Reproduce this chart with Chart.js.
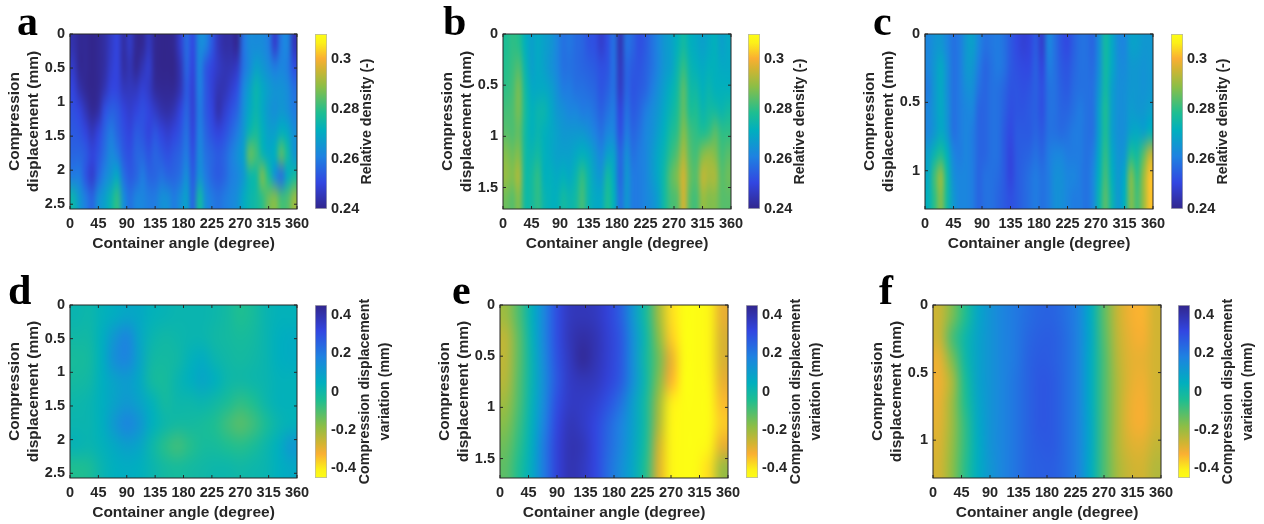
<!DOCTYPE html>
<html>
<head>
<meta charset="utf-8">
<title>Relative density and compression displacement maps</title>
<script src="https://cdn.jsdelivr.net/npm/chart.js@4/dist/chart.umd.min.js"></script>
<style>
html, body { margin: 0; padding: 0; background: #fff; }
#page { position: relative; width: 1264px; height: 524px; overflow: hidden; filter: blur(0.4px); }
#page canvas { position: absolute; }
.letter { position: absolute; font: bold 42px/42px "Liberation Serif", serif; color: #000; }
</style>
</head>
<body>
<div id="page"></div>
<script>
/* tick labels and column positions */
const angleTicks = [0, 45, 90, 135, 180, 225, 270, 315, 360];
const fineAngles = [5, 15, 25, 35, 45, 55, 65, 75, 85, 95, 105, 115, 125, 135, 145, 155, 165, 175, 185, 195, 205, 215, 225, 235, 245, 255, 265, 275, 285, 295, 305, 315, 325, 335, 345, 355];
const coarseAngles = [10, 30, 50, 70, 90, 110, 130, 150, 170, 190, 210, 230, 250, 270, 290, 310, 330, 350];
const densityTicks = [0.24, 0.26, 0.28, 0.3];
const variationTicks = [-0.4, -0.2, 0, 0.2, 0.4];
const depthTicksLong = [0, 0.5, 1, 1.5, 2, 2.5];
const depthTicksMid = [0, 0.5, 1, 1.5];
const depthTicksShort = [0, 0.5, 1];

/* row edges in mm */
const edgesA = [0, 0.32, 0.64, 0.96, 1.28, 1.6, 1.92, 2.24, 2.57];
const edgesB = [0, 0.21, 0.43, 0.64, 0.86, 1.07, 1.28, 1.5, 1.71];
const edgesC = [0, 0.16, 0.32, 0.48, 0.64, 0.8, 0.96, 1.12, 1.28];
const edgesD = [0, 0.32, 0.64, 0.96, 1.28, 1.6, 1.92, 2.24, 2.57];
const edgesE = [0, 0.21, 0.42, 0.63, 0.85, 1.06, 1.27, 1.48, 1.69];
const edgesF = [0, 0.16, 0.32, 0.48, 0.64, 0.8, 0.96, 1.12, 1.28];

/* relative density, one row per depth band */
const densityA = [
  [.244,.241,.241,.240,.241,.243,.247,.250,.243,.247,.241,.241,.246,.241,.240,.240,.241,.248,.257,.251,.263,.262,.254,.246,.243,.243,.241,.258,.263,.263,.263,.260,.248,.260,.262,.246],
  [.247,.241,.241,.240,.241,.243,.248,.250,.243,.245,.241,.245,.248,.241,.240,.240,.240,.245,.256,.250,.262,.254,.250,.247,.245,.245,.247,.258,.263,.268,.266,.263,.260,.262,.260,.252],
  [.250,.244,.241,.240,.241,.245,.250,.250,.246,.246,.246,.249,.247,.242,.241,.241,.241,.245,.254,.249,.261,.254,.249,.245,.245,.248,.252,.262,.268,.274,.270,.267,.265,.265,.263,.258],
  [.252,.250,.245,.241,.243,.252,.255,.254,.250,.248,.250,.252,.250,.247,.244,.243,.245,.250,.256,.249,.260,.254,.250,.244,.248,.252,.256,.264,.270,.274,.270,.266,.264,.266,.264,.260],
  [.254,.253,.250,.246,.250,.256,.260,.256,.252,.250,.254,.253,.250,.253,.250,.248,.250,.253,.258,.250,.261,.256,.252,.250,.252,.256,.260,.266,.274,.277,.272,.268,.268,.272,.270,.264],
  [.256,.256,.254,.250,.253,.258,.263,.260,.254,.252,.256,.256,.253,.256,.254,.252,.254,.256,.260,.252,.263,.258,.256,.254,.256,.260,.264,.268,.285,.282,.274,.270,.272,.284,.276,.266],
  [.260,.260,.253,.248,.256,.262,.266,.270,.258,.254,.256,.260,.256,.256,.258,.256,.256,.258,.264,.254,.265,.260,.256,.254,.256,.260,.262,.266,.274,.276,.287,.278,.264,.258,.270,.276],
  [.274,.266,.260,.256,.264,.268,.274,.280,.264,.258,.262,.262,.260,.260,.264,.264,.260,.264,.268,.256,.276,.264,.260,.258,.260,.262,.264,.270,.274,.276,.280,.286,.288,.282,.283,.290]
];
const densityB = [
  [.278,.280,.279,.272,.268,.270,.268,.266,.262,.258,.259,.257,.256,.253,.252,.248,.252,.258,.245,.258,.256,.252,.254,.258,.262,.266,.268,.272,.276,.272,.270,.268,.270,.272,.268,.270],
  [.279,.281,.283,.274,.268,.270,.268,.265,.262,.258,.258,.257,.256,.255,.254,.252,.253,.258,.246,.256,.254,.253,.255,.258,.262,.266,.268,.274,.280,.274,.272,.270,.272,.272,.270,.270],
  [.280,.282,.287,.276,.270,.270,.270,.268,.264,.260,.260,.258,.258,.257,.256,.253,.255,.258,.247,.256,.253,.254,.256,.260,.264,.268,.272,.276,.284,.276,.275,.272,.274,.272,.272,.272],
  [.282,.283,.287,.277,.272,.274,.274,.270,.266,.264,.262,.262,.260,.260,.258,.255,.258,.260,.250,.258,.254,.256,.260,.263,.266,.270,.274,.278,.285,.278,.278,.274,.276,.276,.274,.276],
  [.284,.283,.285,.276,.272,.274,.272,.270,.268,.266,.266,.266,.266,.264,.261,.258,.262,.262,.252,.260,.256,.258,.262,.264,.268,.272,.277,.280,.288,.282,.280,.278,.280,.284,.280,.280],
  [.288,.286,.288,.276,.274,.276,.272,.270,.268,.268,.268,.270,.272,.270,.266,.262,.268,.268,.256,.264,.258,.260,.262,.266,.270,.274,.280,.284,.292,.284,.282,.288,.290,.288,.282,.284],
  [.290,.288,.292,.276,.276,.280,.272,.272,.270,.272,.270,.274,.280,.274,.268,.266,.276,.270,.256,.266,.260,.260,.262,.266,.270,.276,.284,.288,.296,.286,.284,.294,.292,.292,.284,.286],
  [.286,.284,.288,.276,.276,.280,.274,.272,.272,.276,.274,.276,.282,.274,.270,.270,.278,.272,.258,.266,.260,.260,.262,.264,.268,.276,.282,.284,.296,.284,.282,.290,.288,.288,.284,.284]
];
const densityC = [
  [.262,.265,.266,.262,.258,.260,.266,.268,.262,.258,.259,.260,.258,.254,.251,.249,.250,.254,.248,.262,.258,.253,.251,.255,.258,.258,.256,.264,.276,.270,.263,.262,.268,.268,.266,.266],
  [.262,.266,.270,.264,.258,.260,.266,.266,.260,.256,.258,.260,.258,.254,.252,.251,.251,.255,.250,.260,.258,.254,.253,.256,.258,.258,.257,.264,.276,.270,.264,.263,.266,.266,.265,.266],
  [.260,.266,.270,.264,.258,.260,.264,.264,.258,.256,.258,.258,.256,.253,.253,.252,.253,.255,.252,.258,.258,.255,.254,.257,.258,.258,.258,.266,.276,.268,.264,.264,.266,.266,.265,.266],
  [.262,.266,.270,.265,.258,.260,.262,.262,.256,.256,.258,.258,.255,.252,.253,.253,.254,.255,.252,.258,.258,.256,.256,.258,.260,.258,.258,.268,.278,.268,.264,.264,.267,.266,.266,.268],
  [.262,.266,.270,.266,.258,.260,.262,.260,.256,.256,.258,.258,.254,.251,.254,.254,.254,.256,.254,.258,.258,.257,.258,.260,.260,.258,.258,.268,.278,.268,.264,.264,.269,.270,.268,.272],
  [.268,.274,.278,.272,.262,.260,.262,.260,.256,.256,.258,.258,.254,.250,.254,.255,.256,.258,.256,.260,.262,.262,.260,.260,.260,.258,.260,.270,.280,.270,.265,.266,.278,.276,.284,.294],
  [.270,.282,.290,.276,.264,.262,.262,.260,.256,.258,.258,.257,.254,.250,.254,.256,.258,.260,.258,.260,.264,.264,.262,.262,.260,.258,.262,.272,.282,.272,.266,.270,.288,.280,.290,.302],
  [.272,.280,.288,.276,.266,.262,.262,.260,.256,.258,.258,.256,.254,.252,.254,.256,.258,.260,.258,.260,.264,.264,.262,.260,.260,.258,.262,.274,.284,.274,.266,.272,.288,.282,.290,.302]
];

/* compression displacement variation */
const variationD = [
  [.015,.005,.035,.055,.075,.065,.035,.025,.015,.015,.015,.005,-.015,-.045,-.025,.015,.035,.035],
  [-.005,-.005,.045,.12,.17,.075,.015,-.005,.005,.015,.015,-.005,-.015,-.025,-.015,.015,.045,.055],
  [-.025,-.015,.045,.14,.17,.085,-.005,-.015,-.005,.035,.055,.015,-.005,-.015,-.005,.015,.045,.055],
  [-.015,-.005,.045,.085,.105,.065,-.015,-.025,.015,.045,.075,.045,.005,-.005,.005,.015,.035,.035],
  [.005,.015,.045,.085,.115,.085,.035,-.015,.005,.005,.015,-.005,-.035,-.065,-.045,.005,.035,.035],
  [.015,.015,.045,.115,.17,.125,.045,.005,-.015,-.015,-.025,-.045,-.085,-.115,-.085,-.035,.015,.035],
  [.025,.015,.035,.065,.095,.075,.005,-.055,-.085,-.055,-.025,-.025,-.045,-.055,-.035,.005,.045,.115],
  [-.045,-.035,.015,.045,.055,.045,.015,-.015,-.025,-.015,-.005,.005,.005,-.005,.005,.015,.045,.065]
];
const variationE = [
  [-.2,-.1,.04,.17,.3,.37,.38,.37,.33,.26,.12,-.02,-.2,-.38,-.45,-.45,-.42,-.3],
  [-.24,-.12,.03,.17,.3,.38,.41,.39,.34,.28,.14,0,-.17,-.36,-.45,-.45,-.42,-.28],
  [-.24,-.12,.02,.16,.29,.37,.43,.39,.34,.28,.14,-.01,-.14,-.3,-.44,-.45,-.42,-.28],
  [-.23,-.11,.02,.15,.28,.36,.38,.37,.33,.27,.14,0,-.16,-.33,-.45,-.45,-.43,-.3],
  [-.2,-.1,.03,.16,.3,.36,.36,.34,.29,.22,.1,-.02,-.2,-.4,-.45,-.45,-.44,-.34],
  [-.17,-.08,.04,.18,.32,.38,.36,.32,.25,.18,.09,-.02,-.22,-.42,-.45,-.45,-.44,-.36],
  [-.14,-.06,.05,.2,.33,.39,.38,.32,.24,.17,.08,-.03,-.26,-.42,-.45,-.45,-.42,-.3],
  [-.12,-.04,.06,.2,.33,.39,.37,.32,.23,.15,.07,-.05,-.28,-.42,-.45,-.44,-.38,-.2]
];
const variationF = [
  [-.26,-.16,-.05,.07,.13,.17,.2,.23,.25,.25,.22,.17,.05,-.12,-.25,-.31,-.33,-.27],
  [-.26,-.1,0,.08,.13,.17,.2,.24,.26,.26,.23,.17,.06,-.11,-.24,-.3,-.32,-.27],
  [-.3,-.16,-.01,.08,.13,.17,.2,.25,.27,.26,.23,.17,.05,-.1,-.23,-.29,-.3,-.27],
  [-.31,-.22,-.04,.08,.13,.17,.21,.25,.28,.27,.23,.17,.05,-.1,-.22,-.29,-.31,-.27],
  [-.3,-.2,-.05,.07,.13,.17,.21,.25,.28,.27,.23,.17,.05,-.1,-.22,-.3,-.32,-.27],
  [-.29,-.2,-.07,.06,.13,.17,.21,.25,.28,.27,.23,.17,.06,-.1,-.22,-.3,-.32,-.27],
  [-.28,-.19,-.07,.05,.13,.17,.21,.25,.27,.27,.23,.17,.06,-.1,-.22,-.28,-.29,-.25],
  [-.27,-.18,-.06,.05,.12,.17,.21,.25,.26,.26,.23,.17,.05,-.1,-.21,-.26,-.27,-.23]
];

/* colour map, low to high */
const mapStops = [
  [0, 50, 38, 140], [0.15, 50, 70, 225], [0.3, 30, 130, 225], [0.45, 0, 175, 190],
  [0.55, 30, 190, 145], [0.7, 140, 190, 70], [0.8, 210, 180, 50], [0.86, 250, 175, 50],
  [0.95, 252, 240, 25], [1, 253, 253, 20]
];

const axisColor = "#262626";
const tickFont = { family: "'Liberation Sans', Arial, sans-serif", size: 14.5, weight: "bold" };
const titleFont = { family: "'Liberation Sans', Arial, sans-serif", size: 15.5, weight: "bold", lineHeight: 1.25 };
const barTitleSize = 14.2;
const AXIS_WIDTH = 70;
const AXIS_HEIGHT = 47;
const BAR_WIDTH = 12;

const densityScale = { low: 0.24, high: 0.31, flip: false, ticks: densityTicks, title: ["Relative density (-)"], titleOffset: 40 };
const variationScale = { low: -0.45, high: 0.45, flip: true, ticks: variationTicks, title: ["Compression displacement", "variation (mm)"], titleOffset: 38 };

const panels = [
  { letter: "a", letterX: 17, letterY: 0, left: 70, top: 34, width: 227, height: 175, barLeft: 315, angles: fineAngles, edges: edgesA, grid: densityA, depthTicks: depthTicksLong, color: densityScale },
  { letter: "b", letterX: 443, letterY: 0, left: 503, top: 34, width: 228, height: 175, barLeft: 748, angles: fineAngles, edges: edgesB, grid: densityB, depthTicks: depthTicksMid, color: densityScale },
  { letter: "c", letterX: 873, letterY: 0, left: 925, top: 34, width: 228, height: 175, barLeft: 1171, angles: fineAngles, edges: edgesC, grid: densityC, depthTicks: depthTicksShort, color: densityScale },
  { letter: "d", letterX: 8, letterY: 269, left: 70, top: 305, width: 227, height: 173, barLeft: 315, angles: coarseAngles, edges: edgesD, grid: variationD, depthTicks: depthTicksLong, color: variationScale },
  { letter: "e", letterX: 452, letterY: 269, left: 500, top: 305, width: 228, height: 173, barLeft: 746, angles: coarseAngles, edges: edgesE, grid: variationE, depthTicks: depthTicksMid, color: variationScale },
  { letter: "f", letterX: 879, letterY: 269, left: 933, top: 305, width: 228, height: 173, barLeft: 1178, angles: coarseAngles, edges: edgesF, grid: variationF, depthTicks: depthTicksShort, color: variationScale }
];

function mapColor(frac){
  const f = Math.min(1, Math.max(0, frac));
  for (let i = 1; i < mapStops.length; i++){
    if (f <= mapStops[i][0]){
      const a = mapStops[i - 1];
      const b = mapStops[i];
      const t = (f - a[0]) / (b[0] - a[0]);
      const c = [1, 2, 3].map(k => Math.round(a[k] + (b[k] - a[k]) * t));
      return `rgb(${c[0]},${c[1]},${c[2]})`;
    }
  }
  return "rgb(253,253,20)";
}

function fracOf(value, scale){
  const f = (value - scale.low) / (scale.high - scale.low);
  return scale.flip ? 1 - f : f;
}

/* the cells are drawn by the library, then resampled so they blend like shaded interp */
function smoothCells(cols, rows){
  return {
    id: "smoothCells",
    afterDatasetsDraw(chart){
      const a = chart.chartArea;
      const w = a.right - a.left;
      const h = a.bottom - a.top;
      const small = document.createElement("canvas");
      small.width = cols;
      small.height = rows;
      const sctx = small.getContext("2d");
      sctx.imageSmoothingEnabled = false;
      sctx.drawImage(chart.canvas, a.left, a.top, w, h, 0, 0, cols, rows);
      const ctx = chart.ctx;
      ctx.save();
      ctx.imageSmoothingEnabled = true;
      ctx.imageSmoothingQuality = "high";
      ctx.drawImage(small, a.left, a.top, w, h);
      ctx.restore();
    }
  };
}

/* box on all four sides with short inward ticks */
const boxFrame = {
  id: "boxFrame",
  afterDraw(chart){
    const a = chart.chartArea;
    const ctx = chart.ctx;
    ctx.save();
    ctx.strokeStyle = axisColor;
    ctx.lineWidth = 1;
    ctx.strokeRect(a.left, a.top, a.right - a.left, a.bottom - a.top);
    ctx.beginPath();
    chart.scales.x.ticks.forEach(t => {
      const px = chart.scales.x.getPixelForValue(t.value);
      ctx.moveTo(px, a.top); ctx.lineTo(px, a.top + 3);
      ctx.moveTo(px, a.bottom); ctx.lineTo(px, a.bottom - 3);
    });
    chart.scales.y.ticks.forEach(t => {
      const py = chart.scales.y.getPixelForValue(t.value);
      ctx.moveTo(a.left, py); ctx.lineTo(a.left + 3, py);
      ctx.moveTo(a.right, py); ctx.lineTo(a.right - 3, py);
    });
    ctx.stroke();
    ctx.restore();
  }
};

/* colour bar title reads bottom to top, the scale title on a right axis would not */
function barTitle(lines, offset){
  return {
    id: "barTitle",
    afterDraw(chart){
      const a = chart.chartArea;
      const ctx = chart.ctx;
      ctx.save();
      ctx.font = `bold ${barTitleSize}px ${titleFont.family}`;
      ctx.fillStyle = axisColor;
      ctx.textAlign = "center";
      ctx.textBaseline = "middle";
      lines.forEach((line, i) => {
        ctx.save();
        ctx.translate(a.right + offset + i * 20, (a.top + a.bottom) / 2);
        ctx.rotate(-Math.PI / 2);
        ctx.fillText(line, 0, 0);
        ctx.restore();
      });
      ctx.restore();
    }
  };
}

function addCanvas(left, top, width, height){
  const canvas = document.createElement("canvas");
  canvas.style.left = left + "px";
  canvas.style.top = top + "px";
  canvas.style.width = width + "px";
  canvas.style.height = height + "px";
  canvas.width = width;
  canvas.height = height;
  document.getElementById("page").appendChild(canvas);
  return canvas;
}

function drawMap(p){
  const cells = [];
  const colors = [];
  p.grid.forEach((row, r) => {
    row.forEach((value, c) => {
      cells.push({ x: p.angles[c], y: [p.edges[r], p.edges[r + 1]] });
      colors.push(mapColor(fracOf(value, p.color)));
    });
  });
  const canvas = addCanvas(p.left - AXIS_WIDTH, p.top - 10, AXIS_WIDTH + p.width + 18, 10 + p.height + AXIS_HEIGHT);
  new Chart(canvas, {
    type: "bar",
    data: {
      datasets: [{
        data: cells,
        backgroundColor: colors,
        borderWidth: 0,
        barPercentage: 1,
        categoryPercentage: 1
      }]
    },
    options: {
      responsive: false,
      animation: false,
      events: [],
      layout: { padding: { top: 10, right: 18 } },
      plugins: { legend: { display: false }, tooltip: { enabled: false } },
      scales: {
        x: {
          type: "linear",
          offset: false,
          min: 0,
          max: 360,
          grid: { display: false, offset: false, drawTicks: false },
          border: { display: false },
          afterBuildTicks: s => { s.ticks = angleTicks.map(v => ({ value: v })); },
          afterFit: s => { s.height = AXIS_HEIGHT; s.paddingLeft = 0; s.paddingRight = 0; },
          ticks: { color: axisColor, font: tickFont, padding: 6, maxRotation: 0, autoSkip: false, callback: v => String(v) },
          title: { display: true, text: "Container angle (degree)", color: axisColor, font: titleFont, padding: { top: 2, bottom: 3 } }
        },
        y: {
          reverse: true,
          min: 0,
          max: p.edges[p.edges.length - 1],
          grid: { display: false, drawTicks: false },
          border: { display: false },
          afterBuildTicks: s => { s.ticks = p.depthTicks.map(v => ({ value: v })); },
          afterFit: s => { s.width = AXIS_WIDTH; s.paddingTop = 0; s.paddingBottom = 0; },
          ticks: { color: axisColor, font: tickFont, padding: 5, autoSkip: false, callback: v => String(v) },
          title: { display: true, text: ["Compression", "displacement (mm)"], color: axisColor, font: titleFont, padding: { top: 5, bottom: 2 } }
        }
      }
    },
    plugins: [smoothCells(p.angles.length, p.grid.length), boxFrame]
  });
}

function drawColorBar(p){
  const scale = p.color;
  const canvas = addCanvas(p.barLeft, p.top - 10, BAR_WIDTH + 80, p.height + 20);
  new Chart(canvas, {
    type: "bar",
    data: {
      labels: [""],
      datasets: [{
        data: [[scale.low, scale.high]],
        borderColor: "#b4b4b4",
        borderWidth: 1,
        borderSkipped: false,
        barPercentage: 1,
        categoryPercentage: 1,
        backgroundColor: ctx => {
          const chart = ctx.chart;
          if (!chart.chartArea) return "#000";
          const y = chart.scales.y;
          const grad = chart.ctx.createLinearGradient(0, y.getPixelForValue(scale.flip ? scale.high : scale.low), 0, y.getPixelForValue(scale.flip ? scale.low : scale.high));
          mapStops.forEach(s => grad.addColorStop(s[0], `rgb(${s[1]},${s[2]},${s[3]})`));
          return grad;
        }
      }]
    },
    options: {
      responsive: false,
      animation: false,
      events: [],
      layout: { padding: { top: 10, bottom: 10 } },
      plugins: { legend: { display: false }, tooltip: { enabled: false } },
      scales: {
        x: { display: false },
        y: {
          position: "right",
          min: scale.low,
          max: scale.high,
          grid: { display: false, drawTicks: false },
          border: { display: false },
          afterBuildTicks: s => { s.ticks = scale.ticks.map(v => ({ value: v })); },
          afterFit: s => { s.width = 80; s.paddingTop = 0; s.paddingBottom = 0; },
          ticks: { color: axisColor, font: tickFont, padding: 4, crossAlign: "near", autoSkip: false, callback: v => String(v) }
        }
      }
    },
    plugins: [barTitle(scale.title, scale.titleOffset)]
  });
}

panels.forEach(p => {
  drawMap(p);
  drawColorBar(p);
  const label = document.createElement("div");
  label.className = "letter";
  label.textContent = p.letter;
  label.style.left = p.letterX + "px";
  label.style.top = p.letterY + "px";
  document.getElementById("page").appendChild(label);
});
</script>
</body>
</html>
